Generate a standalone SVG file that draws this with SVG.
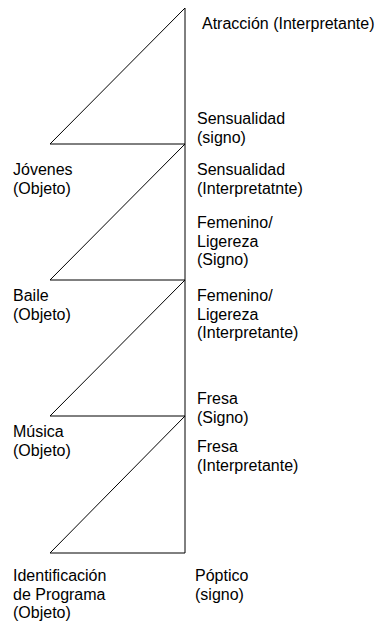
<svg xmlns="http://www.w3.org/2000/svg" width="376" height="622" viewBox="0 0 376 622">
<style>
.t{font-family:"Liberation Sans",Arial,sans-serif;font-size:16px;fill:#000}
.c{stroke:#000;stroke-width:1;fill:none}
</style>
<rect width="376" height="622" fill="#fff"/>
<g id="connectors">
<line class="c" x1="185" y1="8" x2="185" y2="553"/>
<polyline class="c" points="185,8 50,144 185,144"/>
<polyline class="c" points="185,144 50,280 185,280"/>
<polyline class="c" points="185,280 50,416 185,416"/>
<polyline class="c" points="185,416 50,553 185,553"/>
</g>
<g id="atraccion"><text class="t" x="202" y="29">Atracción (Interpretante)</text></g>
<g id="sensualidad-signo"><text class="t" x="197" y="124">Sensualidad<tspan x="197" dy="18.6">(signo)</tspan></text></g>
<g id="sensualidad-interp"><text class="t" x="197" y="175">Sensualidad<tspan x="197" dy="18.6">(Interpretatnte)</tspan></text></g>
<g id="jovenes"><text class="t" x="13" y="175">Jóvenes<tspan x="13" dy="18.6">(Objeto)</tspan></text></g>
<g id="femenino-signo"><text class="t" x="197" y="228">Femenino/<tspan x="197" dy="18.6">Ligereza</tspan><tspan x="197" dy="18.6">(Signo)</tspan></text></g>
<g id="baile"><text class="t" x="13" y="301">Baile<tspan x="13" dy="18.6">(Objeto)</tspan></text></g>
<g id="femenino-interp"><text class="t" x="197" y="301">Femenino/<tspan x="197" dy="18.6">Ligereza</tspan><tspan x="197" dy="18.6">(Interpretante)</tspan></text></g>
<g id="fresa-signo"><text class="t" x="197" y="404">Fresa<tspan x="197" dy="18.6">(Signo)</tspan></text></g>
<g id="musica"><text class="t" x="13" y="437">Música<tspan x="13" dy="18.6">(Objeto)</tspan></text></g>
<g id="fresa-interp"><text class="t" x="197" y="452">Fresa<tspan x="197" dy="18.6">(Interpretante)</tspan></text></g>
<g id="identificacion"><text class="t" x="13" y="581">Identificación<tspan x="13" dy="18.6">de Programa</tspan><tspan x="13" dy="18.6">(Objeto)</tspan></text></g>
<g id="poptico"><text class="t" x="195" y="581">Póptico<tspan x="195" dy="18.6">(signo)</tspan></text></g>
</svg>
